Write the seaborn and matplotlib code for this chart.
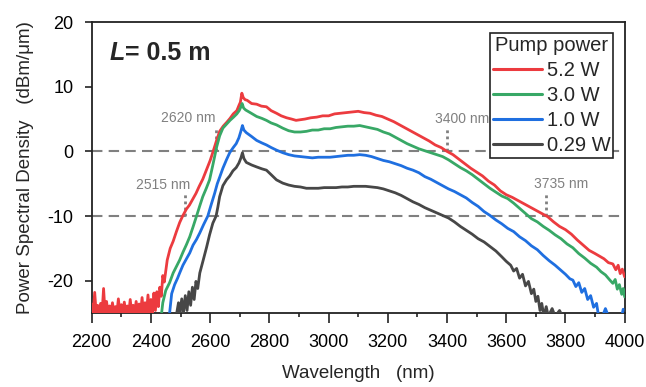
import numpy as np
import matplotlib
matplotlib.use("Agg")
import matplotlib.pyplot as plt
import seaborn as sns
import pandas as pd
from matplotlib.lines import Line2D
from matplotlib.ticker import MultipleLocator

# spectra (wavelength in nm, PSD in dBm/um)
red_wl = [2200, 2205, 2210, 2215, 2220, 2225, 2230, 2235, 2240, 2245,
          2250, 2255, 2260, 2265, 2270, 2275, 2280, 2285, 2290, 2295,
          2300, 2305, 2310, 2315, 2320, 2325, 2330, 2335, 2340, 2345,
          2350, 2355, 2360, 2365, 2370, 2375, 2380, 2385, 2390, 2395,
          2400, 2405, 2410, 2415, 2420, 2425, 2430, 2435, 2440, 2445,
          2455, 2465, 2475, 2486, 2497, 2507, 2520, 2530, 2541, 2552,
          2563, 2575, 2587, 2600, 2610, 2621, 2632, 2644, 2656, 2667,
          2678, 2690, 2698, 2702, 2707, 2712, 2718, 2725, 2740, 2757,
          2773, 2790, 2806, 2824, 2840, 2858, 2875, 2890, 2905, 2920,
          2940, 2960, 2980, 3000, 3020, 3040, 3060, 3080, 3100, 3120,
          3140, 3160, 3180, 3200, 3220, 3240, 3260, 3280, 3300, 3320,
          3340, 3360, 3380, 3400, 3420, 3440, 3460, 3480, 3500, 3520,
          3540, 3560, 3580, 3600, 3620, 3640, 3660, 3680, 3700, 3720,
          3740, 3760, 3780, 3800, 3820, 3840, 3860, 3880, 3900, 3915,
          3930, 3945, 3960, 3970, 3978, 3985, 3992, 4000]
red_psd = [-23.6, -25.0, -21.8, -25.0, -23.8, -25.0, -23.5, -25.0, -21.2, -25.0,
           -23.2, -25.0, -23.9, -25.0, -23.4, -25.0, -24.0, -25.0, -22.8, -25.0,
           -23.7, -25.0, -23.3, -25.0, -23.9, -25.0, -22.9, -25.0, -23.8, -25.0,
           -23.2, -25.0, -23.6, -25.0, -22.6, -25.0, -23.4, -25.0, -22.2, -25.0,
           -22.9, -25.0, -21.9, -24.6, -21.7, -24.0, -21.0, -22.4, -19.2, -20.2,
           -16.8, -15.0, -13.9, -12.4, -11.0, -10.0, -8.9, -8.3, -7.4, -6.5,
           -5.4, -4.3, -2.9, -1.4, 0.0, 1.6, 3.1, 3.9, 4.5, 5.1,
           5.8, 6.3, 7.2, 7.6, 9.0, 8.3, 8.0, 7.9, 7.4, 7.3,
           7.0, 6.9, 6.3, 5.9, 5.5, 5.2, 5.0, 4.8, 4.9, 5.0,
           5.2, 5.3, 5.5, 5.5, 5.8, 5.9, 6.0, 6.1, 6.2, 6.0,
           5.9, 5.6, 5.4, 5.0, 4.6, 4.1, 3.6, 3.1, 2.6, 2.1,
           1.6, 1.0, 0.6, 0.0, -0.5, -1.2, -1.9, -2.6, -3.2, -3.8,
           -4.6, -5.2, -6.1, -6.7, -7.1, -7.6, -8.1, -8.6, -9.1, -9.6,
           -10.1, -10.9, -11.6, -12.1, -12.8, -13.7, -14.5, -15.3, -15.8, -16.2,
           -16.6, -17.2, -17.4, -18.3, -17.6, -18.9, -18.2, -19.4]

green_wl = [2436, 2440, 2450, 2463, 2475, 2486, 2497, 2508, 2520, 2531,
            2542, 2554, 2565, 2575, 2587, 2598, 2610, 2622, 2632, 2643,
            2655, 2667, 2679, 2690, 2698, 2703, 2708, 2713, 2720, 2735,
            2757, 2775, 2790, 2806, 2824, 2845, 2865, 2885, 2905, 2925,
            2945, 2965, 2985, 3005, 3025, 3045, 3065, 3085, 3105, 3125,
            3145, 3165, 3185, 3205, 3225, 3245, 3265, 3285, 3305, 3325,
            3345, 3365, 3385, 3405, 3425, 3445, 3465, 3485, 3505, 3525,
            3545, 3565, 3585, 3605, 3625, 3645, 3665, 3685, 3705, 3725,
            3745, 3765, 3785, 3805, 3825, 3845, 3865, 3885, 3905, 3920,
            3935, 3950, 3960, 3968, 3975, 3982, 3990, 3995, 4000]
green_psd = [-25.0, -23.4, -21.5, -20.3, -18.8, -17.8, -16.8, -15.6, -14.4, -13.2,
             -11.7, -10.0, -8.4, -7.0, -5.7, -4.4, -1.9, 0.7, 2.4, 3.6,
             4.2, 4.8, 5.3, 5.8, 6.3, 6.8, 7.4, 6.7, 6.4, 6.0,
             5.4, 5.1, 4.8, 4.4, 4.1, 3.6, 3.2, 3.0, 3.0, 3.1,
             3.3, 3.3, 3.5, 3.5, 3.7, 3.8, 3.9, 3.9, 4.0, 3.8,
             3.6, 3.4, 3.0, 2.7, 2.2, 1.7, 1.2, 0.8, 0.4, 0.1,
             -0.2, -0.5, -0.8, -1.3, -1.9, -2.5, -3.0, -3.6, -4.3, -5.0,
             -5.7, -6.3, -6.9, -7.3, -8.0, -8.8, -9.6, -10.4, -10.9, -11.6,
             -12.2, -12.9, -13.5, -14.3, -14.9, -15.8, -16.5, -17.3, -17.9, -18.6,
             -19.1, -19.9, -20.4, -19.8, -21.3, -20.6, -22.1, -21.2, -22.5]

blue_wl = [2463, 2470, 2480, 2490, 2497, 2508, 2520, 2531, 2542, 2554,
           2565, 2578, 2592, 2603, 2615, 2624, 2632, 2643, 2655, 2666,
           2678, 2688, 2697, 2703, 2709, 2714, 2722, 2740, 2757, 2775,
           2790, 2806, 2824, 2845, 2865, 2885, 2905, 2925, 2945, 2965,
           2985, 3005, 3025, 3045, 3065, 3085, 3105, 3125, 3145, 3165,
           3185, 3205, 3225, 3245, 3265, 3285, 3305, 3325, 3345, 3365,
           3385, 3405, 3425, 3445, 3465, 3485, 3505, 3525, 3545, 3565,
           3585, 3605, 3625, 3645, 3665, 3685, 3705, 3725, 3745, 3765,
           3785, 3800, 3815, 3825, 3835, 3845, 3855, 3865, 3875, 3885,
           3895, 3905, 3912, 3925, 3935, 3945, 3990, 3995]
blue_psd = [-25.0, -22.0, -20.6, -19.6, -18.8, -17.6, -16.6, -15.7, -14.5, -13.6,
            -12.6, -11.3, -10.0, -8.3, -6.5, -5.0, -4.0, -2.6, -1.3, -0.2,
            0.6, 1.2, 2.1, 3.0, 4.0, 3.3, 2.9, 2.3, 1.7, 1.3,
            1.0, 0.6, 0.2, -0.2, -0.5, -0.7, -0.8, -0.9, -1.0, -0.9,
            -0.9, -0.9, -0.8, -0.7, -0.6, -0.6, -0.5, -0.6, -0.8, -1.1,
            -1.4, -1.6, -1.9, -2.2, -2.6, -2.9, -3.3, -3.9, -4.3, -4.8,
            -5.3, -5.8, -6.2, -6.7, -7.2, -7.9, -8.5, -9.3, -9.9, -10.6,
            -11.2, -11.9, -12.4, -13.2, -13.8, -14.6, -15.2, -16.1, -16.9, -17.6,
            -18.4, -19.0, -19.7, -19.9, -20.9, -20.3, -21.8, -21.2, -22.9, -22.3,
            -24.1, -23.5, -25.5, -25.5, -24.3, -25.5, -25.5, -24.4]

black_wl = [2487, 2493, 2498, 2504, 2510, 2516, 2522, 2528, 2534, 2540,
            2546, 2552, 2558, 2565, 2576, 2588, 2598, 2609, 2620, 2626,
            2632, 2643, 2655, 2666, 2677, 2688, 2697, 2704, 2709, 2714,
            2722, 2740, 2757, 2775, 2790, 2806, 2824, 2845, 2865, 2885,
            2905, 2925, 2945, 2965, 2985, 3005, 3025, 3045, 3065, 3085,
            3105, 3125, 3145, 3165, 3185, 3205, 3225, 3245, 3265, 3285,
            3305, 3325, 3345, 3365, 3385, 3405, 3425, 3445, 3465, 3485,
            3505, 3525, 3545, 3565, 3585, 3600, 3615, 3625, 3635, 3645,
            3655, 3665, 3675, 3685, 3693, 3700, 3707, 3714, 3720, 3727,
            3735, 3742, 3755, 3765, 3780, 3790]
black_psd = [-25.0, -23.4, -25.0, -22.8, -25.0, -22.3, -24.6, -21.7, -23.8, -21.0,
             -22.9, -20.1, -21.2, -18.8, -16.9, -14.8, -12.9, -11.1, -10.0, -8.6,
             -7.0, -5.3, -4.4, -3.8, -3.0, -2.5, -1.8, -1.0, -0.2, -1.1,
             -1.7, -2.1, -2.4, -2.7, -2.9, -3.6, -4.4, -4.9, -5.2, -5.4,
             -5.5, -5.7, -5.7, -5.7, -5.6, -5.6, -5.6, -5.5, -5.5, -5.4,
             -5.4, -5.4, -5.5, -5.6, -5.8, -6.1, -6.4, -6.8, -7.3, -7.8,
             -8.2, -8.7, -9.1, -9.5, -9.9, -10.3, -10.9, -11.6, -12.2, -12.8,
             -13.5, -14.0, -14.7, -15.4, -16.3, -17.0, -17.6, -18.5, -18.1, -19.6,
             -19.0, -20.8, -20.1, -22.0, -21.3, -23.2, -22.4, -24.6, -23.5, -25.5,
             -24.0, -25.5, -24.3, -25.5, -24.6, -25.5]

labels = ["5.2 W", "3.0 W", "1.0 W", "0.29 W"]
colors = ["#ec3b3f", "#38a866", "#1f6fe0", "#474747"]

# cutoff wavelengths marked on the plot: (wavelength, level)
marks = [(2620, 0), (3400, 0), (2515, -10), (3735, -10)]

frames = []
for lab, wl, psd in zip(labels, [red_wl, green_wl, blue_wl, black_wl],
                        [red_psd, green_psd, blue_psd, black_psd]):
    frames.append(pd.DataFrame({"wl": wl, "psd": psd, "power": lab}))
df = pd.concat(frames, ignore_index=True)

sns.set_theme(style="ticks")
plt.rcParams["font.family"] = ["Liberation Sans", "DejaVu Sans"]
plt.rcParams["axes.unicode_minus"] = False

fig = plt.figure(figsize=(6.46, 3.87), dpi=100)
ax = fig.add_axes([0.142, 0.191, 0.825, 0.752])

# reference levels
for lev in [0, -10]:
    ax.axhline(lev, color="#808080", lw=1.5, ls=(0, (5, 3)), zorder=1)

sns.lineplot(data=df, x="wl", y="psd", hue="power", hue_order=labels,
             palette=dict(zip(labels, colors)), estimator=None, sort=False,
             lw=2.0, legend=False, ax=ax, zorder=3)

# dotted markers + labels for the cutoffs
for wl, lev in marks:
    ax.plot([wl, wl], [lev, lev + 3.4], color="#808080", lw=2,
            ls=(0, (1, 1.2)), zorder=2)
    if wl == 2620:
        ax.text(wl - 2, lev + 5.2, f"{wl} nm", ha="right", va="center",
                fontsize=10, color="#808080")
    elif wl == 2515:
        ax.text(wl + 17, lev + 4.8, f"{wl} nm", ha="right", va="center",
                fontsize=10, color="#808080")
    else:
        ax.text(wl + 52, lev + 5.0, f"{wl} nm", ha="center", va="center",
                fontsize=10, color="#808080")

ax.set_xlim(2200, 4000)
ax.set_ylim(-25, 20)
ax.xaxis.set_major_locator(MultipleLocator(200))
ax.xaxis.set_minor_locator(MultipleLocator(100))
ax.yaxis.set_major_locator(MultipleLocator(10))
ax.tick_params(axis="x", which="major", direction="out", length=7,
               width=1.2, labelsize=13, pad=8, colors="#222222")
ax.tick_params(axis="x", which="minor", direction="out", length=3,
               width=1.2, colors="#222222")
ax.tick_params(axis="y", which="major", direction="out", length=5,
               width=1.2, labelsize=13, pad=8, colors="#222222")
for s in ax.spines.values():
    s.set_linewidth(1.3)
    s.set_color("#222222")
    s.set_visible(True)
for t in ax.get_xticklabels() + ax.get_yticklabels():
    t.set_color("black")

ax.set_xlabel("Wavelength   (nm)", fontsize=13.5, labelpad=10)
ax.set_ylabel("Power Spectral Density   (dBm/\u03bcm)", fontsize=13.5, labelpad=10)

# L = 0.5 m tag
tl = ax.text(0.034, 0.893, "L", transform=ax.transAxes, fontsize=18,
             fontweight="bold", fontstyle="italic", va="center", ha="left")
ax.annotate("= 0.5 m", xy=(1, 0.5), xycoords=tl, va="center", ha="left",
            fontsize=18, fontweight="bold")

handles = [Line2D([0], [0], color=c, lw=2.2) for c in colors]
leg = ax.legend(handles, labels, title="Pump power", loc="upper right",
                bbox_to_anchor=(0.979, 0.962), fontsize=14.5, title_fontsize=14.5,
                frameon=True, fancybox=False, framealpha=1, edgecolor="#222222",
                borderpad=0.15, handlelength=2.4, handletextpad=0.25,
                labelspacing=0.3, borderaxespad=0)
leg.get_frame().set_linewidth(1.2)
leg.set_zorder(5)

fig.savefig("out.png", dpi=100)
